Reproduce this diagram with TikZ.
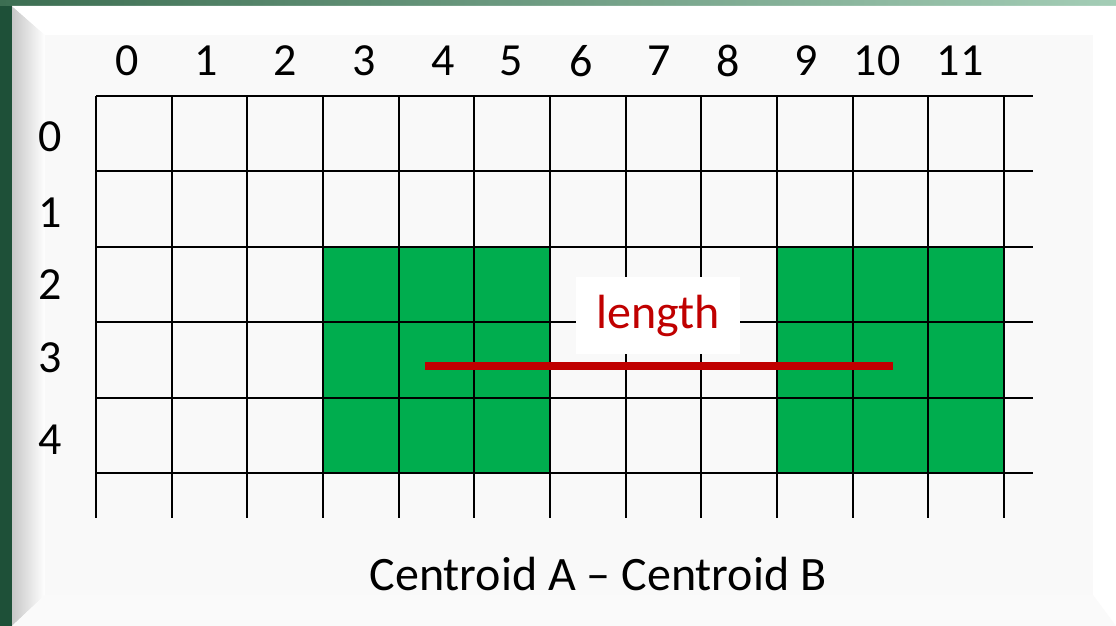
\documentclass[tikz,border=0pt]{standalone}
\usepackage{fontspec}
\setmainfont{Carlito}
\definecolor{frameg}{HTML}{1E5038}
\definecolor{topgA}{HTML}{3C6E52}
\definecolor{topgB}{HTML}{A4CDB6}
\definecolor{face}{HTML}{F9F9F9}
\definecolor{cellg}{HTML}{00AD4E}
\definecolor{redl}{HTML}{C00000}
\begin{document}
\begin{tikzpicture}[x=1pt,y=-1pt,
  gridline/.style={line width=1.9pt,black},
  lab/.style={font=\fontsize{46}{46}\selectfont,inner sep=0pt,anchor=center},
  greencell/.style={fill=cellg,draw=none}]
\useasboundingbox (0,0) rectangle (1116,626);
% background frame
\fill[frameg] (0,0) rectangle (1116,626);
\shade[left color=topgA,right color=topgB] (0,0) rectangle (1116,6);
% panel with bevels
\fill[white] (12,6) rectangle (1116,626);
\shade[left color=black!22,right color=white] (12,6) -- (45,35) -- (45,595) -- (12,626) -- cycle;
\fill[white] (12,6) -- (1116,6) -- (1093,35) -- (45,35) -- cycle;
\fill[white!98!black] (45,595) -- (1093,595) -- (1116,626) -- (12,626) -- cycle;
\fill[face] (45,35) rectangle (1093,595);
% green cells
\fill[greencell] (323.0,246.8) rectangle (550.0,473);
\fill[greencell] (777.0,246.8) rectangle (1004,473);
% grid
\foreach \j in {0,...,5}{
  \draw[gridline] (96,{96+75.4*\j}) -- (1033,{96+75.4*\j});
}
\foreach \i in {0,...,12}{
  \draw[gridline] ({96+75.67*\i},96) -- ({96+75.67*\i},518);
}
% column labels
\foreach \x/\t [count=\k] in {127/0,206/1,285/2,364/3,443/4,511/5,581/6,659/7,728/8,806/9,877/10,960/11}{
  \node[lab] (c\k) at (\x,61) {\t};
}
% row labels
\foreach \y/\t [count=\k] in {137/0,213/1,285/2,358/3,440/4}{
  \node[lab] (r\k) at (50,\y) {\t};
}
% length line
\coordinate (la) at (425,366);
\coordinate (lb) at (893,366);
\draw[redl,line width=8pt] (la) -- (lb);
\node[fill=white,minimum width=164pt,minimum height=77pt,inner sep=0pt,
  text=redl,font=\fontsize{48}{48}\selectfont] (len) at (658,315.5) {length};
\node[font=\fontsize{48}{48}\selectfont,inner sep=0pt] (cap) at (598,574) {Centroid A – Centroid B};
\end{tikzpicture}
\end{document}
